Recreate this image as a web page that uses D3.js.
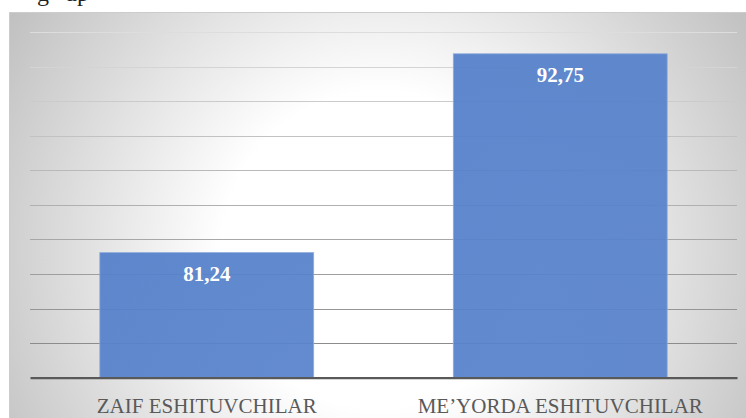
<!DOCTYPE html>
<html>
<head>
<meta charset="utf-8">
<script src="https://cdn.jsdelivr.net/npm/d3@7"></script>
<style>
  html, body { margin: 0; padding: 0; background: #fff; }
  svg { display: block; }
</style>
</head>
<body>
<div id="chart"></div>
<script>
// data
var categories = ['ZAIF ESHITUVCHILAR', 'ME\u2019YORDA ESHITUVCHILAR'];
var values = [81.24, 92.75];
var valueLabels = ['81,24', '92,75'];
var yTicks = [74, 76, 78, 80, 82, 84, 86, 88, 90, 92, 94];

const width = 746;
const height = 418;
const margin = { top: 32.2, bottom: 418 - 377.7, left: 30, right: 746 - 737 };
const serif = "'Liberation Serif', 'Times New Roman', serif";

const svg = d3.select('#chart')
  .append('svg')
  .attr('width', width)
  .attr('height', height);

const defs = svg.append('defs');
const bg = defs.append('radialGradient')
  .attr('id', 'bg')
  .attr('gradientUnits', 'userSpaceOnUse')
  .attr('cx', 380).attr('cy', 250).attr('r', 440);
bg.append('stop').attr('offset', '0').attr('stop-color', '#ffffff');
bg.append('stop').attr('offset', '0.36').attr('stop-color', '#ffffff');
bg.append('stop').attr('offset', '1').attr('stop-color', '#c0c0c0');

const barGrad = defs.append('linearGradient')
  .attr('id', 'bar')
  .attr('x1', '0').attr('y1', '0').attr('x2', '1').attr('y2', '1');
barGrad.append('stop').attr('offset', '0').attr('stop-color', '#5580ca');
barGrad.append('stop').attr('offset', '1').attr('stop-color', '#5a84cd');

// cut-off text from the page above the chart
svg.append('text')
  .attr('x', 37).attr('y', 0.5)
  .attr('font-family', serif)
  .attr('font-size', 24)
  .attr('word-spacing', 10)
  .attr('fill', '#222')
  .text('g up');

// chart area
svg.append('rect')
  .attr('x', 9.5).attr('y', 12.5)
  .attr('width', width - 9).attr('height', height - 12)
  .attr('fill', 'url(#bg)')
  .attr('stroke', '#cccccc')
  .attr('stroke-width', 1);

const x = d3.scaleBand()
  .domain(categories)
  .range([margin.left, width - margin.right])
  .paddingInner(0.395)
  .paddingOuter(0.1975);

const y = d3.scaleLinear()
  .domain([74, 94])
  .range([height - margin.bottom, margin.top]);

// gridlines get darker towards the bottom, as in the picture
const gridColor = d3.scaleLinear()
  .domain([94, 76])
  .range(['#dddddd', '#8c8c8c']);

svg.append('g')
  .selectAll('line')
  .data(yTicks.slice(1))
  .join('line')
    .attr('x1', margin.left)
    .attr('x2', width - margin.right)
    .attr('y1', d => Math.round(y(d)) + 0.5)
    .attr('y2', d => Math.round(y(d)) + 0.5)
    .attr('stroke', d => gridColor(d))
    .attr('stroke-width', 1);

// bars
svg.append('g')
  .selectAll('rect')
  .data(values)
  .join('rect')
    .attr('x', (d, i) => x(categories[i]))
    .attr('y', d => y(d))
    .attr('width', x.bandwidth())
    .attr('height', d => y(74) - y(d))
    .attr('fill', 'url(#bar)')
    .attr('fill-opacity', 0.94)
    .attr('stroke', '#8eaadb')
    .attr('stroke-width', 0.8);

// value labels
svg.append('g')
  .selectAll('text')
  .data(values)
  .join('text')
    .attr('x', (d, i) => x(categories[i]) + x.bandwidth() / 2)
    .attr('y', d => y(d) + 28)
    .attr('text-anchor', 'middle')
    .attr('font-family', serif)
    .attr('font-weight', 'bold')
    .attr('font-size', 21)
    .attr('fill', '#ffffff')
    .text((d, i) => valueLabels[i]);

// x axis
const xAxis = svg.append('g')
  .attr('transform', `translate(0,${y(74)})`)
  .call(d3.axisBottom(x).tickSize(0).tickPadding(20));
xAxis.select('.domain')
  .attr('stroke', '#595959')
  .attr('stroke-width', 2.2);
xAxis.selectAll('text')
  .attr('font-family', serif)
  .attr('font-size', 21)
  .attr('fill', '#595959');
</script>
</body>
</html>
